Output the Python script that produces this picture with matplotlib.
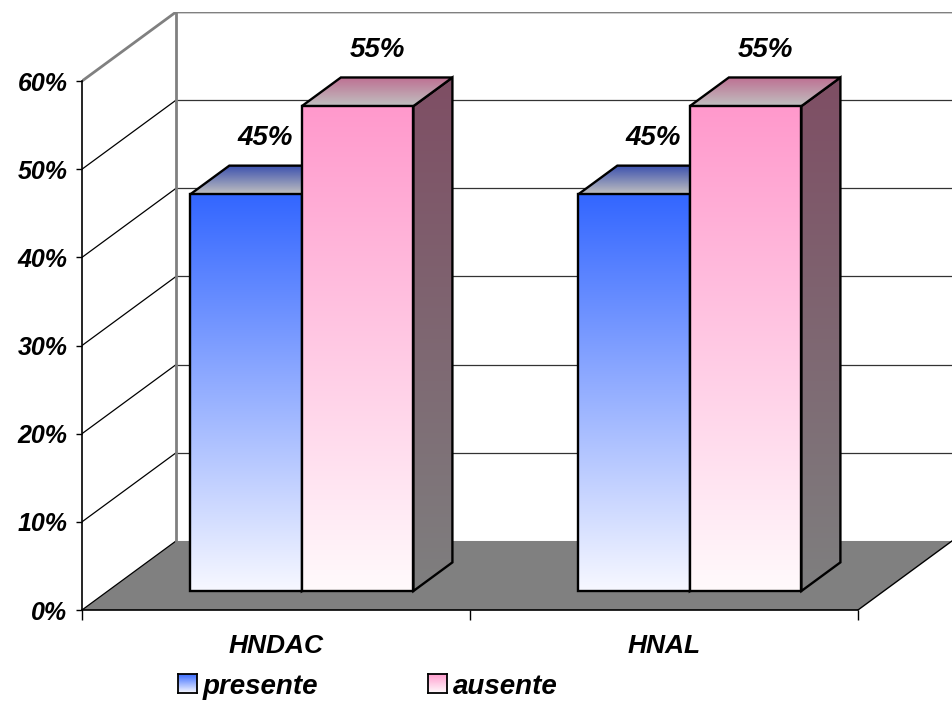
import numpy as np
import matplotlib
matplotlib.use('Agg')
import matplotlib.pyplot as plt
from matplotlib.patches import Polygon
from matplotlib.colors import LinearSegmentedColormap

plt.rcParams['font.family'] = ['Liberation Sans', 'DejaVu Sans']
plt.rcParams['font.weight'] = 'bold'
plt.rcParams['font.style'] = 'italic'

#################### Data ####################
categories = ['HNDAC', 'HNAL']
series = ['presente', 'ausente']
presente = [45, 45]
ausente = [55, 55]
values = [presente, ausente]
yticks = [0, 10, 20, 30, 40, 50, 60]

# face colours per series: front top, front bottom, top back, side top
front_top = ['#3366FF', '#FF99CC']
front_bot = ['#F7F8FF', '#FFFAFC']
top_back = ['#3A4FAE', '#BE6F92']
side_top = ['#34406E', '#7E4E64']
silver = '#C0C0C0'
side_bot = '#7F7F7F'

#################### Pseudo 3D geometry ####################
DX = 0.2423     # depth shift along x (data units)
DY = 7.83       # depth shift along y (percent)
d0, d1 = 0.275, 0.69   # bar depth range
w = 0.2875      # bar width


def proj(x, y, d):
    return (x + d * DX, y + d * DY)


fig = plt.figure(figsize=(9.52, 7.04), dpi=100)
ax = fig.add_axes([82 / 952, 94 / 704, 870 / 952, 598 / 704])
ax.patch.set_alpha(0)


def grad_face(verts, c_top, c_bot, z, ec='black', lw=1.7):
    poly = Polygon(verts, closed=True, facecolor='none', edgecolor=ec,
                   lw=lw, zorder=z + 0.05, joinstyle='miter')
    ax.add_patch(poly)
    xs = [v[0] for v in verts]
    ys = [v[1] for v in verts]
    cmap = LinearSegmentedColormap.from_list('g', [c_bot, c_top])
    im = ax.imshow(np.linspace(0, 1, 256).reshape(-1, 1), cmap=cmap,
                   extent=(min(xs), max(xs), min(ys), max(ys)),
                   origin='lower', aspect='auto', zorder=z,
                   interpolation='bilinear')
    im.set_clip_path(poly)


# walls and floor
xmax = len(categories)
ymax = yticks[-1]
back = [proj(0, 0, 1), proj(xmax, 0, 1), proj(xmax, ymax, 1), proj(0, ymax, 1)]
ax.add_patch(Polygon(back, closed=True, facecolor='white', edgecolor='none', zorder=0))
floor = [proj(0, 0, 0), proj(xmax, 0, 0), proj(xmax, 0, 1), proj(0, 0, 1)]
ax.add_patch(Polygon(floor, closed=True, facecolor='#808080', edgecolor='none', zorder=0.5))

for t in yticks[:-1]:
    bx0, by = proj(0, t, 1)
    bx1, _ = proj(xmax, t, 1)
    if t > 0:
        ax.plot([bx0, bx1], [by, by], color='#333333', lw=0.9, zorder=0.8)
    fx, fy = proj(0, t, 0)
    ax.plot([fx, bx0], [fy, by], color='black', lw=0.9, zorder=0.8)

# wall border lines
gx = [proj(0, ymax, 0)[0], proj(0, ymax, 1)[0], proj(xmax, ymax, 1)[0]]
gy = [proj(0, ymax, 0)[1], proj(0, ymax, 1)[1], proj(xmax, ymax, 1)[1]]
ax.plot(gx, gy, color='#808080', lw=2, zorder=0.9, solid_joinstyle='miter')
ax.plot([proj(0, 0, 1)[0]] * 2, [proj(0, 0, 1)[1], proj(0, ymax, 1)[1]],
        color='#808080', lw=2, zorder=0.9)
ax.plot([proj(xmax, 0, 0)[0], proj(xmax, 0, 1)[0]],
        [proj(xmax, 0, 0)[1], proj(xmax, 0, 1)[1]], color='black', lw=1, zorder=0.9)

# bars
z = 2
for i in range(len(categories)):
    for s in range(len(series)):
        v = values[s][i]
        x0 = i + 0.5 - w + s * w
        x1 = x0 + w
        front = [proj(x0, 0, d0), proj(x1, 0, d0), proj(x1, v, d0), proj(x0, v, d0)]
        top = [proj(x0, v, d0), proj(x1, v, d0), proj(x1, v, d1), proj(x0, v, d1)]
        side = [proj(x1, 0, d0), proj(x1, 0, d1), proj(x1, v, d1), proj(x1, v, d0)]
        grad_face(side, side_top[s], side_bot, z)
        grad_face(top, top_back[s], silver, z + 0.2)
        grad_face(front, front_top[s], front_bot[s], z + 0.4)
        lx, ly = proj(x0 + w / 2, v, (d0 + d1) / 2)
        ax.annotate(f'{v}%', (lx, ly), xytext=(0, 30), textcoords='offset points',
                    ha='center', va='center', fontsize=20, zorder=10)
        z += 1

#################### Axes ####################
ax.set_xlim(0, xmax + DX)
ax.set_ylim(0, ymax + DY)
for sp in ['top', 'right']:
    ax.spines[sp].set_visible(False)
ax.spines['left'].set_bounds(0, ymax)
ax.spines['bottom'].set_bounds(0, xmax)
ax.spines['left'].set_linewidth(1.2)
ax.spines['bottom'].set_linewidth(1.2)
ax.spines['left'].set_zorder(20)
ax.spines['bottom'].set_zorder(20)

ax.set_yticks(yticks)
ax.set_yticklabels([f'{t}%' for t in yticks], fontsize=18)
ax.tick_params(axis='y', direction='out', length=4.5, width=1, pad=6)

ax.set_xticks(range(xmax + 1))
ax.set_xticklabels([])
ax.set_xticks([i + 0.5 for i in range(xmax)], minor=True)
ax.set_xticklabels(categories, minor=True, fontsize=19)
ax.tick_params(axis='x', which='major', direction='out', length=7, width=1)
ax.tick_params(axis='x', which='minor', length=0, pad=17)

#################### Legend ####################
leg_x = [178, 428]
for s, name in enumerate(series):
    lax = fig.add_axes([leg_x[s] / 952, 11 / 704, 19 / 952, 19 / 704])
    cmap = LinearSegmentedColormap.from_list('g', [front_bot[s], front_top[s]])
    lax.imshow(np.linspace(0, 1, 64).reshape(-1, 1), cmap=cmap, origin='lower',
               aspect='auto', interpolation='bilinear')
    lax.set_xticks([])
    lax.set_yticks([])
    for sp in lax.spines.values():
        sp.set_linewidth(1.3)
    fig.text((leg_x[s] + 25) / 952, 17 / 704, name, fontsize=20,
             ha='left', va='center')

fig.savefig('out.png', dpi=100, facecolor='white')
